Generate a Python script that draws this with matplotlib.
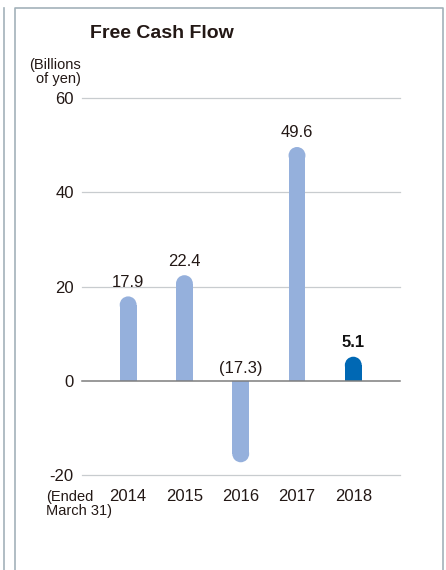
import matplotlib.pyplot as plt
from matplotlib.patches import Ellipse
from matplotlib.lines import Line2D

years = ["2014", "2015", "2016", "2017", "2018"]
values = [17.9, 22.4, -17.3, 49.6, 5.1]
labels = ["17.9", "22.4", "(17.3)", "49.6", "5.1"]
yticks = [-20, 0, 20, 40, 60]

LIGHT = "#95B0DC"
DARK = "#0068B4"
FAMILY = ["Liberation Sans", "DejaVu Sans"]

fig = plt.figure(figsize=(4.46, 5.70), dpi=100)
ax = fig.add_axes([82 / 446, 1 - 475 / 570, 318 / 446, 377 / 570])

xlim = (-0.82, 4.83)
ylim = (-20, 60)
ax.set_xlim(*xlim)
ax.set_ylim(*ylim)

# bar width in data units and cap radius (in y units) so tops are round
bar_w = 0.30
px_x = 318 / (xlim[1] - xlim[0])
px_y = 377 / (ylim[1] - ylim[0])
r_y = (bar_w * px_x / 2) / px_y

for i, v in enumerate(values):
    color = DARK if i == len(values) - 1 else LIGHT
    sign = 1 if v >= 0 else -1
    body = v - sign * r_y
    ax.bar(i, body, width=bar_w, color=color, linewidth=0, zorder=3)
    ax.add_patch(Ellipse((i, body), bar_w, 2 * r_y, color=color, linewidth=0, zorder=3))

    ytxt = v + 3.0 if v >= 0 else 2.6
    bold = i == len(values) - 1
    ax.text(i, ytxt, labels[i], ha="center", va="center", fontsize=12,
            family=FAMILY, color="#231815" if not bold else "#111111",
            fontweight="bold" if bold else "normal", zorder=4)

for t in yticks:
    if t == 0:
        ax.axhline(0, color="#7d7d7d", linewidth=1.1, zorder=4, clip_on=False)
    else:
        ax.axhline(t, color="#c8cccf", linewidth=0.9, zorder=1, clip_on=False)

for s in ax.spines.values():
    s.set_visible(False)
ax.set_yticks(yticks)
ax.set_yticklabels([str(t) for t in yticks], family=FAMILY, fontsize=12, color="#231815")
ax.set_xticks(range(len(years)))
ax.set_xticklabels(years, family=FAMILY, fontsize=12, color="#231815")
ax.tick_params(axis="both", length=0)
ax.tick_params(axis="y", pad=6)
ax.tick_params(axis="x", pad=10)

# title and unit labels
fig.text(162 / 446, 1 - 33 / 570, "Free Cash Flow", ha="center", va="center",
         fontsize=14, fontweight="bold", family=FAMILY, color="#231815")
fig.text(81 / 446, 1 - 72 / 570, "(Billions\nof yen)", ha="right", va="center",
         fontsize=10.5, family=FAMILY, color="#231815", linespacing=1.0)
fig.text(46 / 446, 1 - 504 / 570, "(Ended\nMarch 31)", ha="left", va="center",
         fontsize=10.5, family=FAMILY, color="#231815", linespacing=1.05)

# frame lines around the panel
border = "#a3b2ba"
fig.add_artist(Line2D([3.5 / 446, 3.5 / 446], [0, 1 - 8 / 570], color=border, linewidth=1.2))
fig.add_artist(Line2D([15 / 446, 15 / 446, 443 / 446, 443 / 446],
                      [0, 1 - 8 / 570, 1 - 8 / 570, 0], color=border, linewidth=1.2))

fig.savefig("out.png", dpi=100)
